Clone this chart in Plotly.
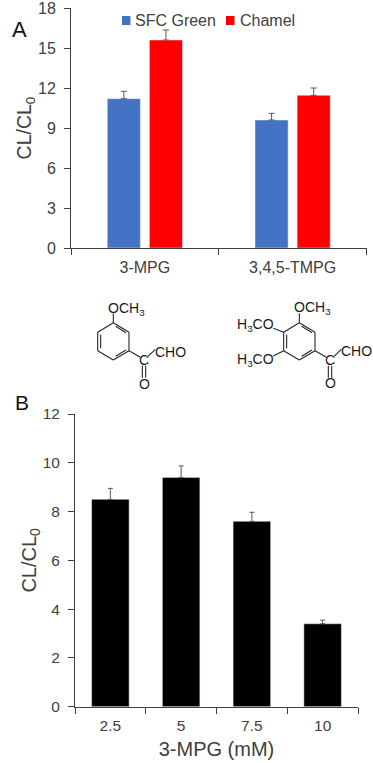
import plotly.graph_objects as go

W, H = 373, 763

# Data
cats_a = ["3-MPG", "3,4,5-TMPG"]
sfc_green = [11.2, 9.6]
sfc_green_err = [0.55, 0.5]
chamel = [15.6, 11.45]
chamel_err = [0.75, 0.55]
yticks_a = [0, 3, 6, 9, 12, 15, 18]

cats_b = ["2.5", "5", "7.5", "10"]
vals_b = [8.5, 9.4, 7.6, 3.4]
errs_b = [0.45, 0.47, 0.37, 0.15]
yticks_b = [0, 2, 4, 6, 8, 10, 12]

FONT = "Liberation Sans"
TXT = "#404040"
AX = "#404040"
ERR = "#595959"
BLUE = "#4472C4"
RED = "#FF0000"


def px(x):
    return x / W


def py(y):
    return 1 - y / H


fig = go.Figure()
fig.add_bar(name="SFC Green", x=cats_a, y=sfc_green, marker_color=BLUE, showlegend=False,
            error_y=dict(type="data", array=sfc_green_err, symmetric=False, arrayminus=[0, 0],
                         color=ERR, thickness=1, width=3), xaxis="x", yaxis="y")
fig.add_bar(name="Chamel", x=cats_a, y=chamel, marker_color=RED, showlegend=False,
            error_y=dict(type="data", array=chamel_err, symmetric=False, arrayminus=[0, 0],
                         color=ERR, thickness=1, width=3), xaxis="x", yaxis="y")
fig.add_bar(x=cats_b, y=vals_b, marker_color="#000000", showlegend=False,
            error_y=dict(type="data", array=errs_b, symmetric=False, arrayminus=[0, 0],
                         color=ERR, thickness=1, width=2.5), xaxis="x2", yaxis="y2")

shapes = []
annots = []


def bond(x0, y0, x1, y1):
    """Structure-drawing line, in zoom-crop pixels (origin 60,280, scale 3)."""
    shapes.append(dict(type="line", xref="paper", yref="paper",
                       x0=px(60 + x0 / 3), y0=py(280 + y0 / 3),
                       x1=px(60 + x1 / 3), y1=py(280 + y1 / 3),
                       line=dict(color="#262626", width=1.1)))


def label(x, y, text, size=14):
    annots.append(dict(xref="paper", yref="paper", x=px(60 + x / 3), y=py(280 + y / 3),
                       text=text, showarrow=False, xanchor="center", yanchor="middle",
                       borderpad=0, font=dict(family=FONT, size=size, color="#1a1a1a")))


def ring(dx, top, ur, lr, bot, ll, ul):
    pts = [top, ur, lr, bot, ll, ul]
    for i in range(6):
        a, b = pts[i], pts[(i + 1) % 6]
        bond(a[0] + dx, a[1], b[0] + dx, b[1])


# 3-MPG structure
ring(0, (160, 128), (207, 157), (207, 212), (160, 240), (113, 212), (113, 157))
bond(167, 139, 198, 158)
bond(167, 229, 198, 210)
bond(122, 164, 122, 205)
bond(160, 100, 160, 128)
bond(207, 212, 240, 231)
bond(264, 229, 286, 208)
bond(247, 257, 247, 293)
bond(257, 257, 257, 293)
label(199, 86, "OCH<sub>3</sub>")
label(331, 215, "CHO")
label(252, 241, "C")
label(252, 311, "O")

# 3,4,5-TMPG structure
ring(558, (160, 128), (207, 157), (207, 212), (160, 240), (113, 212), (113, 157))
bond(725, 139, 756, 158)
bond(725, 229, 756, 210)
bond(680, 164, 680, 205)
bond(718, 100, 718, 128)
bond(765, 212, 798, 231)
bond(822, 229, 844, 208)
bond(805, 257, 805, 293)
bond(815, 257, 815, 293)
bond(640, 145, 671, 157)
bond(640, 228, 671, 212)
label(757, 84, "OCH<sub>3</sub>")
label(888, 213, "CHO")
label(810, 241, "C")
label(810, 308, "O")
label(586, 136, "H<sub>3</sub>CO")
label(586, 241, "H<sub>3</sub>CO")

# Panel letters
annots.append(dict(xref="paper", yref="paper", x=px(9.5), y=py(14.5), text="A", showarrow=False,
                   font=dict(family=FONT, size=22, color="#111111")))
annots.append(dict(xref="paper", yref="paper", x=px(13), y=py(402), text="B", showarrow=False,
                   font=dict(family=FONT, size=21, color="#111111")))

# Legend key for panel A
for x0, x1, col, name, tx in [(122, 130.5, BLUE, "SFC Green", 134), (226, 234.5, RED, "Chamel", 239)]:
    shapes.append(dict(type="rect", xref="paper", yref="paper", x0=px(x0), x1=px(x1),
                       y0=py(25), y1=py(16), fillcolor=col, line=dict(width=0)))
    annots.append(dict(xref="paper", yref="paper", x=px(tx), y=py(20.5), text=name, showarrow=False,
                       xanchor="left", yanchor="middle", borderpad=0,
                       font=dict(family=FONT, size=16, color=TXT)))

axis_common = dict(showgrid=False, zeroline=False, showline=True, linecolor=AX, linewidth=1,
                   ticks="outside", tickcolor=AX, ticklen=6, tickwidth=1, automargin=True,
                   ticklabeloverflow="allow", ticklabelstandoff=5)

fig.update_layout(
    width=W, height=H, autosize=False,
    margin=dict(l=0, r=0, t=0, b=0, pad=0, autoexpand=False),
    paper_bgcolor="white", plot_bgcolor="white",
    font=dict(family=FONT, color=TXT),
    barmode="group", bargap=0.43, bargroupgap=0.214,
    shapes=shapes, annotations=annots,
    xaxis=dict(domain=[px(71), px(366.5)], anchor="y", type="category", tickson="boundaries",
               range=[-0.5, 1.5], tickfont=dict(size=16, color=TXT), **axis_common),
    yaxis=dict(domain=[py(248), py(8)], anchor="x", range=[0, 18], tickvals=yticks_a,
               tickfont=dict(size=16, color=TXT),
               title=dict(text="CL/CL<sub>0</sub>", font=dict(size=19.5, color=TXT), standoff=0),
               **axis_common),
    xaxis2=dict(domain=[px(75), px(358)], anchor="y2", type="category", tickson="boundaries",
                range=[-0.5, 3.5], tickfont=dict(size=15.5, color=TXT),
                title=dict(text="3-MPG (mM)", font=dict(size=20, color=TXT), standoff=8),
                **axis_common),
    yaxis2=dict(domain=[py(706.7), py(414)], anchor="x2", range=[0, 12], tickvals=yticks_b,
                tickfont=dict(size=15.5, color=TXT),
                title=dict(text="CL/CL<sub>0</sub>", font=dict(size=20, color=TXT), standoff=0),
                **axis_common),
)
fig.update_traces(selector=dict(xaxis="x2"), width=0.53)

fig.write_html("out.html", config=dict(displayModeBar=False),
               post_script="document.body.style.margin='0';document.documentElement.style.overflow='hidden';")
